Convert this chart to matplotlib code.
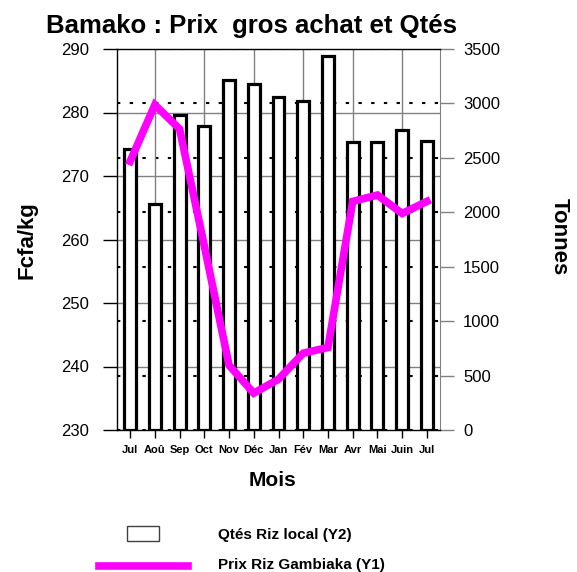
import matplotlib
matplotlib.use("Agg")
import matplotlib.pyplot as plt
from matplotlib.transforms import blended_transform_factory
from matplotlib.patches import Rectangle
from matplotlib.lines import Line2D

# data
mois = ["Jul", "Aoû", "Sep", "Oct", "Nov", "Déc", "Jan", "Fév", "Mar",
        "Avr", "Mai", "Juin", "Jul"]
qtes_riz_local = [2580, 2075, 2890, 2790, 3215, 3175, 3055, 3025, 3440,
                  2645, 2645, 2755, 2655]
prix_gambiaka = [272.3, 281.2, 277.4, 259.0, 240.2, 235.8, 238.0, 242.1,
                 243.0, 266.0, 267.0, 264.1, 266.0]
prix_ticks = [230, 240, 250, 260, 270, 280, 290]
qtes_ticks = [0, 500, 1000, 1500, 2000, 2500, 3000, 3500]

plt.rcParams['font.family'] = ['Liberation Sans', 'DejaVu Sans']
W, H = 577, 572
fig = plt.figure(figsize=(W / 100, H / 100), dpi=100)

# base axes: bars, right y axis (tonnes)
ax = fig.add_axes([117 / W, 1 - 430 / H, 323 / W, 381 / H])
x = list(range(len(mois)))
ax.bar(x, qtes_riz_local, width=0.48, color='white', edgecolor='black',
       linewidth=2.3, zorder=2)
ax.set_xlim(-0.53, len(mois) - 0.47)
ax.set_ylim(0, 3500)
ax.set_yticks(qtes_ticks)
ax.set_axisbelow(True)
ax.yaxis.grid(True, color='black', linestyle=(0, (1.6, 4.5)), linewidth=1.5)
ax.set_xticks(x, mois)
ax.tick_params(axis='x', length=6, width=1, color='black', labelsize=8, pad=5)
for lab in ax.get_xticklabels():
    lab.set_fontweight('bold')
for i in x[1::2]:
    ax.axvline(i, color='#808080', lw=1, zorder=0.6)
for side in ['left', 'top', 'bottom']:
    ax.spines[side].set_color('black')
    ax.spines[side].set_linewidth(1)
ax.spines['right'].set_color('#808080')

# twin axes: price line, left y axis (Fcfa/kg)
axp = ax.twinx()
# twinx moves the base ticks to the left, put them back on the right
ax.yaxis.tick_right()
ax.tick_params(axis='y', right=True, left=False, labelright=True,
               labelleft=False, length=10, width=1, color='#808080',
               labelsize=12, pad=6.5)
axp.set_ylim(230, 290)
axp.set_yticks(prix_ticks)
axp.yaxis.tick_left()
axp.tick_params(axis='y', left=True, right=False, labelleft=True,
                labelright=False, length=10, width=1, color='black',
                labelsize=12, pad=10)
for side in axp.spines:
    axp.spines[side].set_visible(False)
trans = blended_transform_factory(ax.transAxes, axp.transData)
for p in prix_ticks[1:-1]:
    ax.plot([0, 1], [p, p], transform=trans, color='#808080', lw=1, zorder=0.6)
axp.plot(x, prix_gambiaka, color='#FF00FF', lw=5.5, solid_joinstyle='miter')

# labels and title
bold = dict(fontweight='bold', ha='center', va='center')
narrow = ['Liberation Sans Narrow', 'Liberation Sans']
fig.text(27 / W, 1 - 240 / H, "Fcfa/kg", rotation=90, fontsize=16,
         family=narrow, **bold)
fig.text(559 / W, 1 - 237 / H, "Tonnes", rotation=270, fontsize=16,
         family=narrow, **bold)
fig.text(273 / W, 1 - 481 / H, "Mois", fontsize=15, **bold)
fig.text(46 / W, 1 - 26 / H, "Bamako : Prix  gros achat et Qtés",
         fontsize=18.5, fontweight='bold', ha='left', va='center')

# legend drawn by hand below the plot
fig.add_artist(Rectangle((127 / W, 1 - 541 / H), 32 / W, 15 / H,
                         transform=fig.transFigure, facecolor='white',
                         edgecolor='#404040', lw=1))
fig.add_artist(Line2D([99 / W, 188 / W], [1 - 566 / H, 1 - 566 / H],
                      transform=fig.transFigure, color='#FF00FF', lw=5.5))
fig.text(218 / W, 1 - 535 / H, "Qtés Riz local (Y2)", fontsize=11,
         fontweight='bold', ha='left', va='center')
fig.text(218 / W, 1 - 565 / H, "Prix Riz Gambiaka (Y1)", fontsize=11,
         fontweight='bold', ha='left', va='center')

fig.savefig("out.png", dpi=100)
